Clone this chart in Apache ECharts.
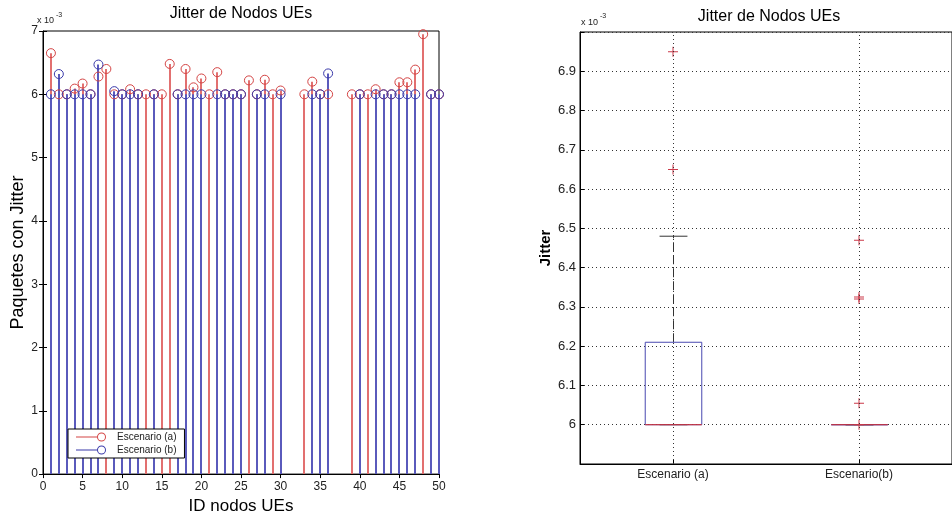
<!DOCTYPE html>
<html>
<head>
<meta charset="utf-8">
<script src="https://cdn.jsdelivr.net/npm/echarts@6/dist/echarts.min.js"></script>
<style>
html, body { margin: 0; padding: 0; background: #fff; }
#chart { width: 952px; height: 520px; }
</style>
</head>
<body>
<div id="chart"></div>
<script>
// valores en unidades de 1e-3 (los ejes muestran "x 10^-3")
var nodeIds = [1, 2, 3, 4, 5, 6, 7, 8, 9, 10, 11, 12, 13, 14, 15, 16, 17, 18, 19, 20,
    21, 22, 23, 24, 25, 26, 27, 28, 29, 30, 31, 32, 33, 34, 35, 36, 37, 38, 39, 40,
    41, 42, 43, 44, 45, 46, 47, 48, 49, 50];
var jitterA = [6.65, 6.0, 6.0, 6.09, 6.17, 6.0, 6.28, 6.40, 6.0, 6.0,
    6.08, 6.0, 6.0, 6.0, 6.0, 6.48, 6.0, 6.40, 6.11, 6.25,
    6.0, 6.35, 6.0, 6.0, 6.0, 6.22, 6.0, 6.23, 6.0, 6.06,
    null, null, 6.0, 6.20, 6.0, 6.0, null, null, 6.0, 6.0,
    6.0, 6.08, 6.0, 6.0, 6.19, 6.19, 6.39, 6.95, 6.0, 6.0];
var jitterB = [6.0, 6.32, 6.0, 6.0, 6.0, 6.0, 6.47, null, 6.05, 6.0,
    6.0, 6.0, null, 6.0, null, null, 6.0, 6.0, 6.0, 6.0,
    null, 6.0, 6.0, 6.0, 6.0, null, 6.0, 6.0, null, 6.0,
    null, null, null, 6.0, 6.0, 6.33, null, null, null, 6.0,
    null, 6.0, 6.0, 6.0, 6.0, 6.0, 6.0, null, 6.0, 6.0];

var boxCategories = ['Escenario (a)', 'Escenario(b)'];
// min, q1, mediana, q3, max
var boxStatsA = [6.0, 6.0, 6.0, 6.21, 6.48];
var boxStatsB = [6.0, 6.0, 6.0, 6.0, 6.0];
var outliersA = [6.95, 6.65];
var outliersB = [6.47, 6.325, 6.32, 6.055, 6.0];

var red = '#d44444', blue = '#3a3aaa';
var redStem = '#e27070', blueStem = '#5a5abc';
var font = 'Liberation Sans';
// icono de leyenda: linea + circulo hueco
var stemIcon = 'path://M0,4.5h21v1h-21z M30,5a4.5,4.5 0 1,0 -9,0a4.5,4.5 0 1,0 9,0z M29,5a3.5,3.5 0 1,1 -7,0a3.5,3.5 0 1,1 7,0z';

function pairs(vals) {
    var out = [];
    nodeIds.forEach(function (id, i) {
        if (vals[i] != null) out.push([id, vals[i]]);
    });
    return out;
}

function stem(color) {
    return function (params, api) {
        var p0 = api.coord([api.value(0), 0]);
        var p1 = api.coord([api.value(0), api.value(1)]);
        var x = Math.round(p0[0]);
        return {
            type: 'line',
            shape: { x1: x, y1: p0[1], x2: x, y2: p1[1] },
            style: { stroke: color, lineWidth: 2 }
        };
    };
}

function boxItem(params, api) {
    var c = api.value(0);
    var pMin = api.coord([c, api.value(1)]);
    var pQ1 = api.coord([c, api.value(2)]);
    var pMed = api.coord([c, api.value(3)]);
    var pQ3 = api.coord([c, api.value(4)]);
    var pMax = api.coord([c, api.value(5)]);
    var band = api.size([1, 0])[0];
    var half = band * 0.152, cap = band * 0.075;
    var x = Math.round(pMin[0]) + 0.5;
    var dash = { stroke: '#333', lineWidth: 1, lineDash: [9, 4] };
    var solid = { stroke: '#333', lineWidth: 1 };
    return {
        type: 'group',
        children: [
            { type: 'line', shape: { x1: x, y1: pQ3[1], x2: x, y2: pMax[1] }, style: dash },
            { type: 'line', shape: { x1: x, y1: pMin[1], x2: x, y2: pQ1[1] }, style: dash },
            { type: 'line', shape: { x1: x - cap, y1: pMax[1], x2: x + cap, y2: pMax[1] }, style: solid },
            { type: 'line', shape: { x1: x - cap, y1: pMin[1], x2: x + cap, y2: pMin[1] }, style: solid },
            { type: 'rect', shape: { x: x - half, y: pQ3[1], width: half * 2, height: pQ1[1] - pQ3[1] },
              style: { fill: 'none', stroke: '#4848b0', lineWidth: 1 } },
            { type: 'line', shape: { x1: x - half, y1: pMed[1], x2: x + half, y2: pMed[1] },
              style: { stroke: '#d83030', lineWidth: 1 } }
        ]
    };
}

var boxData = [[0].concat(boxStatsA), [1].concat(boxStatsB)];
var outlierData = outliersA.map(function (v) { return [0, v]; })
    .concat(outliersB.map(function (v) { return [1, v]; }));

var chart = echarts.init(document.getElementById('chart'));
var tickStyle = { show: true, inside: true, length: 4, lineStyle: { color: '#000' } };
var labelStyle = { color: '#222', fontFamily: font, fontSize: 12 };

chart.setOption({
    animation: false,
    backgroundColor: '#fff',
    grid: [
        { left: 43, top: 31, width: 396, height: 449, show: true, borderColor: '#000', borderWidth: 1, backgroundColor: 'transparent' },
        { left: 580, top: 32, width: 377, height: 432, show: true, borderColor: '#000', borderWidth: 1, backgroundColor: 'transparent' }
    ],
    graphic: [
        { type: 'text', x: 241, y: 14, style: { text: 'Jitter de Nodos UEs', align: 'center', verticalAlign: 'middle', font: '16px "Liberation Sans"', fill: '#000' } },
        { type: 'text', x: 769, y: 17, style: { text: 'Jitter de Nodos UEs', align: 'center', verticalAlign: 'middle', font: '16px "Liberation Sans"', fill: '#000' } },
        { type: 'text', x: 37, y: 21, style: { text: 'x 10', verticalAlign: 'middle', font: '9px "Liberation Sans"', fill: '#222' } },
        { type: 'text', x: 56, y: 15, style: { text: '-3', verticalAlign: 'middle', font: '7px "Liberation Sans"', fill: '#222' } },
        { type: 'text', x: 581, y: 23, style: { text: 'x 10', verticalAlign: 'middle', font: '9px "Liberation Sans"', fill: '#222' } },
        { type: 'text', x: 600, y: 16, style: { text: '-3', verticalAlign: 'middle', font: '7px "Liberation Sans"', fill: '#222' } }
    ],
    legend: {
        orient: 'vertical',
        left: 68,
        top: 429,
        itemWidth: 30,
        itemHeight: 10,
        itemGap: 3,
        padding: [3, 8, 3, 8],
        backgroundColor: '#fff',
        borderColor: '#000',
        borderWidth: 1,
        textStyle: { fontFamily: font, fontSize: 10, color: '#222', padding: [0, 0, 0, 6] },
        data: [
            { name: 'Escenario (a)', icon: stemIcon, itemStyle: { color: red, borderWidth: 0 } },
            { name: 'Escenario (b)', icon: stemIcon, itemStyle: { color: blue, borderWidth: 0 } }
        ]
    },
    xAxis: [
        {
            type: 'value', gridIndex: 0, min: 0, max: 50, interval: 5,
            name: 'ID nodos UEs', nameLocation: 'middle', nameGap: 21,
            nameTextStyle: { fontFamily: font, fontSize: 17, color: '#000' },
            axisLine: { show: true, lineStyle: { color: '#000' } },
            axisTick: tickStyle,
            axisLabel: Object.assign({ margin: 7 }, labelStyle),
            splitLine: { show: false }
        },
        {
            type: 'value', gridIndex: 0, min: 0, max: 50, interval: 5, position: 'top',
            axisLine: { show: false }, axisTick: tickStyle, axisLabel: { show: false }, splitLine: { show: false }
        },
        {
            type: 'category', gridIndex: 1, data: boxCategories, boundaryGap: true,
            axisLine: { show: true, lineStyle: { color: '#000' } },
            axisTick: { show: true, inside: true, length: 4, alignWithLabel: true, lineStyle: { color: '#000' } },
            axisLabel: { color: '#222', fontFamily: font, fontSize: 12, margin: 5 },
            splitLine: { show: false }
        }
    ],
    yAxis: [
        {
            type: 'value', gridIndex: 0, min: 0, max: 7, interval: 1,
            name: 'Paquetes con Jitter', nameLocation: 'middle', nameGap: 7,
            nameTextStyle: { fontFamily: font, fontSize: 18, color: '#000' },
            axisLine: { show: true, lineStyle: { color: '#000' } },
            axisTick: tickStyle,
            axisLabel: Object.assign({ margin: 5 }, labelStyle),
            splitLine: { show: false }
        },
        {
            type: 'value', gridIndex: 0, min: 0, max: 7, interval: 1, position: 'right',
            axisLine: { show: false }, axisTick: tickStyle, axisLabel: { show: false }, splitLine: { show: false }
        },
        {
            type: 'value', gridIndex: 1, min: 5.9, max: 7.0, interval: 0.1,
            name: 'Jitter', nameLocation: 'middle', nameGap: 27,
            nameTextStyle: { fontFamily: font, fontSize: 15, fontWeight: 'bold', color: '#000' },
            axisLine: { show: true, lineStyle: { color: '#000' } },
            axisTick: tickStyle,
            axisLabel: {
                color: '#222', fontFamily: font, fontSize: 13, margin: 4,
                formatter: function (v) {
                    var r = Math.round(v * 10) / 10;
                    if (r < 5.95 || r > 6.95) return '';
                    return String(r);
                }
            },
            splitLine: { show: true, lineStyle: { color: '#333', type: [1, 3], width: 1 } }
        }
    ],
    series: [
        {
            type: 'custom', name: 'stemA', xAxisIndex: 0, yAxisIndex: 0,
            renderItem: stem(redStem), encode: { x: 0, y: 1 }, data: pairs(jitterA)
        },
        {
            type: 'line', name: 'Escenario (a)', xAxisIndex: 0, yAxisIndex: 0,
            data: pairs(jitterA), symbol: 'circle', symbolSize: 9, showAllSymbol: true,
            itemStyle: { color: 'transparent', borderColor: red, borderWidth: 1 },
            lineStyle: { color: red, width: 1, opacity: 0 },
            emphasis: { disabled: true }
        },
        {
            type: 'custom', name: 'stemB', xAxisIndex: 0, yAxisIndex: 0,
            renderItem: stem(blueStem), encode: { x: 0, y: 1 }, data: pairs(jitterB)
        },
        {
            type: 'line', name: 'Escenario (b)', xAxisIndex: 0, yAxisIndex: 0,
            data: pairs(jitterB), symbol: 'circle', symbolSize: 9, showAllSymbol: true,
            itemStyle: { color: 'transparent', borderColor: blue, borderWidth: 1 },
            lineStyle: { color: blue, width: 1, opacity: 0 },
            emphasis: { disabled: true }
        },
        {
            type: 'custom', name: 'caja', xAxisIndex: 2, yAxisIndex: 2,
            renderItem: boxItem, encode: { x: 0, y: [1, 2, 3, 4, 5] }, data: boxData,
            markLine: {
                silent: true, symbol: ['none', 'none'], label: { show: false },
                lineStyle: { color: '#333', type: [1, 3], width: 1 },
                data: [{ xAxis: 0 }, { xAxis: 1 }]
            }
        },
        {
            type: 'scatter', name: 'atipicos', xAxisIndex: 2, yAxisIndex: 2,
            data: outlierData,
            symbol: 'path://M4.5,0h1v4.5h4.5v1h-4.5v4.5h-1v-4.5h-4.5v-1h4.5z',
            symbolSize: 10,
            itemStyle: { color: '#cc3a4a', opacity: 1 },
            emphasis: { disabled: true }
        }
    ]
});
</script>
</body>
</html>
